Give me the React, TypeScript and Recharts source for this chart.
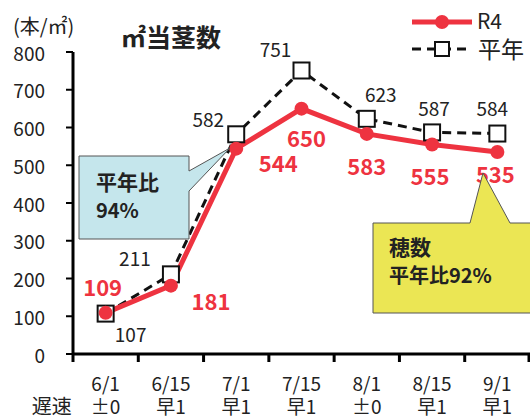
import { LineChart, Line, XAxis, YAxis, LabelList } from 'recharts';

const dates = ['6/1', '6/15', '7/1', '7/15', '8/1', '8/15', '9/1'];
const speed = ['±0', '早1', '早1', '早1', '±0', '早1', '早1'];
const r4 = [109, 181, 544, 650, 583, 555, 535];
const normal = [107, 211, 582, 751, 623, 587, 584];
const yTicks = [0, 100, 200, 300, 400, 500, 600, 700, 800];

// label offsets from each point (dx, dy)
const r4Offsets = [[-3, -27], [40, 14], [42, 13], [5, 28], [0, 31], [-2, 31], [-2, 21]];
const normalOffsets = [[25, 20], [-36, -17], [-28, -16], [-26, -22], [14, -25], [2, -25], [-5, -26]];

const RED = '#EE3340';
const FONT = '"Noto Sans CJK JP", "Noto Sans", sans-serif';
const CHART_W = 540;
const MARGIN = { top: 52, right: 10, left: 0, bottom: 5 };
const X_H = 60;
const Y_W = 73;
const STEP = (CHART_W - MARGIN.left - MARGIN.right - Y_W) / dates.length;

const data = dates.map((d, i) => ({ date: d, speed: speed[i], r4: r4[i], normal: normal[i] }));

function XTick(props: any) {
  const { x, y, payload, index } = props;
  const half = STEP / 2;
  return (
    <g>
      <line x1={x - half} x2={x - half} y1={y} y2={y + 8} stroke="#000" strokeWidth={3} />
      {index === dates.length - 1 && (
        <line x1={x + half - 1} x2={x + half - 1} y1={y} y2={y + 8} stroke="#000" strokeWidth={3} />
      )}
      <text x={x} y={y + 37} textAnchor="middle" fontSize={19} fill="#222" fontFamily={FONT}>
        {payload.value}
      </text>
      <text x={x} y={y + 60} textAnchor="middle" fontSize={19} fill="#222" fontFamily={FONT}>
        {speed[index]}
      </text>
      {index === 0 && (
        <text x={x - 54} y={y + 60} textAnchor="middle" fontSize={20} fill="#222" fontFamily={FONT}>
          遅速
        </text>
      )}
    </g>
  );
}

function YTick(props: any) {
  const { y, payload } = props;
  const axisX = MARGIN.left + Y_W;
  return (
    <g>
      <line x1={axisX - 7} x2={axisX} y1={y} y2={y} stroke="#000" strokeWidth={2} />
      <text x={axisX - 28} y={y} textAnchor="end" dominantBaseline="central" fontSize={19} fill="#222" fontFamily={FONT}>
        {payload.value}
      </text>
    </g>
  );
}

function SquareDot(props: any) {
  const { cx, cy } = props;
  if (cx == null || cy == null) return null;
  return <rect x={cx - 8} y={cy - 8} width={16} height={16} fill="#fff" stroke="#111" strokeWidth={2} />;
}

const makeLabel = (values: number[], offsets: number[][], color: string, bold: boolean, size: number) =>
  (props: any) => {
    const { x, y, value } = props;
    const i = props.index ?? values.indexOf(value);
    const [dx, dy] = offsets[i] || [0, 0];
    return (
      <text
        x={x + dx}
        y={y + dy}
        textAnchor="middle"
        dominantBaseline="central"
        fontSize={size}
        fontWeight={bold ? 'bold' : 'normal'}
        fill={color}
        fontFamily={FONT}
      >
        {value}
      </text>
    );
  };

export default function App() {
  return (
    <div style={{ position: 'absolute', left: 0, top: 0, width: 530, height: 419, overflow: 'hidden', background: '#fff', fontFamily: FONT }}>
      <LineChart width={CHART_W} height={419} data={data} margin={MARGIN}>
        <XAxis
          dataKey="date"
          height={X_H}
          padding={{ left: STEP / 2, right: STEP / 2 }}
          axisLine={{ stroke: '#000', strokeWidth: 3 }}
          tickLine={false}
          tickSize={0}
          tickMargin={0}
          tick={<XTick />}
          interval={0}
        />
        <YAxis
          width={Y_W}
          domain={[0, 800]}
          ticks={yTicks}
          interval={0}
          axisLine={{ stroke: '#000', strokeWidth: 3 }}
          tickLine={false}
          tick={<YTick />}
        />
        <Line
          dataKey="normal"
          stroke="#111"
          strokeWidth={3}
          strokeDasharray="9 6"
          dot={<SquareDot />}
          isAnimationActive={false}
        >
          <LabelList dataKey="normal" content={makeLabel(normal, normalOffsets, '#222', false, 19)} />
        </Line>
        <Line
          dataKey="r4"
          stroke={RED}
          strokeWidth={5}
          dot={{ r: 7, fill: RED, stroke: RED, strokeWidth: 0 }}
          isAnimationActive={false}
        >
          <LabelList dataKey="r4" content={makeLabel(r4, r4Offsets, RED, true, 22)} />
        </Line>
      </LineChart>

      <svg width={530} height={419} style={{ position: 'absolute', left: 0, top: 0, pointerEvents: 'none' }}>
        <text x={13} y={34} fontSize={20} fill="#222" fontFamily={FONT}>(本/㎡)</text>
        <text x={121} y={47} fontSize={25} fontWeight="bold" fill="#222" fontFamily={FONT}>㎡当茎数</text>

        {/* legend */}
        <line x1={412} x2={472} y1={22} y2={22} stroke={RED} strokeWidth={5} />
        <circle cx={442} cy={22} r={7} fill={RED} />
        <text x={477} y={29} fontSize={21} fill="#222" fontFamily={FONT}>R4</text>
        <line x1={412} x2={472} y1={49} y2={49} stroke="#111" strokeWidth={3} strokeDasharray="9 6" />
        <rect x={435} y={42} width={14} height={14} fill="#fff" stroke="#111" strokeWidth={2} />
        <text x={478} y={58} fontSize={23} fill="#222" fontFamily={FONT}>平年</text>

        {/* callouts */}
        <path d="M79,156 L189,156 L189,171 L230,148 L189,191 L189,239 L79,239 Z" fill="#C5E6EC" stroke="#555" strokeWidth={1} />
        <text x={96} y={190} fontSize={21} fontWeight="bold" fill="#222" fontFamily={FONT}>平年比</text>
        <text x={96} y={218} fontSize={20} fontWeight="bold" fill="#222" fontFamily={FONT}>94%</text>

        <path d="M373,223 L470,223 L483,173 L510,223 L540,223 L540,313 L373,313 Z" fill="#EBE654" stroke="#555" strokeWidth={1} />
        <text x={389} y={255} fontSize={21} fontWeight="bold" fill="#222" fontFamily={FONT}>穂数</text>
        <text x={389} y={283} fontSize={20} fontWeight="bold" fill="#222" fontFamily={FONT}>平年比92%</text>
      </svg>
    </div>
  );
}
